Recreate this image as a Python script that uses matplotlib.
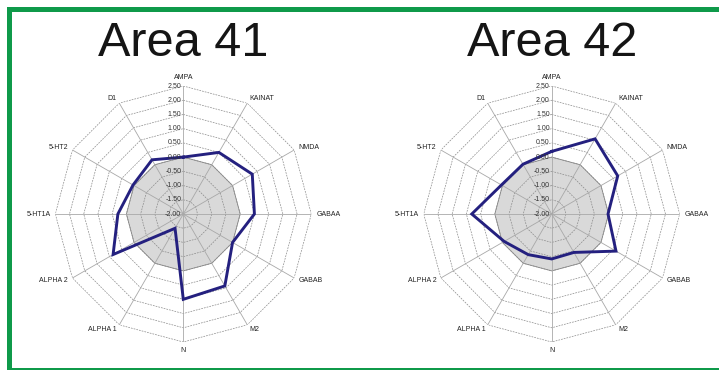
import numpy as np
import matplotlib
matplotlib.use("Agg")
import matplotlib.pyplot as plt
from matplotlib.patches import Rectangle

plt.rcParams['font.family'] = ['Liberation Sans', 'DejaVu Sans']

receptors = ["AMPA", "KAINAT", "NMDA", "GABAA", "GABAB", "M2", "N",
             "ALPHA 1", "ALPHA 2", "5-HT1A", "5-HT2", "D1"]
area41 = [0.00, 0.50, 0.80, 0.50, 0.00, 0.92, 1.00, -1.42, 0.85, 0.30, 0.04, 0.20]
area42 = [0.20, 1.05, 0.68, -0.02, 0.61, -0.44, -0.42, -0.35, -0.07, 0.81, 0.04, 0.02]
reference = [0.00, 0.00, 0.00, 0.00, 0.00, 0.00, 0.00, 0.00, 0.00, 0.00, 0.00, 0.00]
levels = [-2.00, -1.50, -1.00, -0.50, 0.00, 0.50, 1.00, 1.50, 2.00, 2.50]
titles = ["Area 41", "Area 42"]

W, H = 719, 370
fig = plt.figure(figsize=(W / 100, H / 100), dpi=100)
fig.patch.set_facecolor("white")

green = "#0f9a4a"
# frame bars (left, top, bottom)
fig.patches.append(Rectangle((7 / W, 0), 5 / W, 1 - 7 / H, transform=fig.transFigure,
                             facecolor=green, edgecolor="none"))
fig.patches.append(Rectangle((7 / W, 1 - 12 / H), 1 - 7 / W, 5 / H, transform=fig.transFigure,
                             facecolor=green, edgecolor="none"))
fig.patches.append(Rectangle((7 / W, 0), 1 - 7 / W, 2.5 / H, transform=fig.transFigure,
                             facecolor=green, edgecolor="none"))

n = len(receptors)
theta = np.arange(n) * 2 * np.pi / n
theta_c = np.append(theta, theta[0])

rmin, rmax = levels[0], levels[-1]
radius_px = 128
centers = [(183.3, 214.0), (551.7, 214.0)]


def closed(v):
    return np.append(v, v[0])


for (cx, cy), title, values in zip(centers, titles, [area41, area42]):
    w = 2 * radius_px / W
    h = 2 * radius_px / H
    ax = fig.add_axes([cx / W - w / 2, 1 - cy / H - h / 2, w, h], projection="polar")
    ax.set_theta_zero_location("N")
    ax.set_theta_direction(-1)
    ax.set_ylim(rmin, rmax)
    ax.grid(False)
    ax.set_xticks([])
    ax.set_yticks([])
    ax.spines["polar"].set_visible(False)
    ax.patch.set_alpha(0)

    # reference polygon
    ax.fill(theta_c, closed(reference), facecolor="#d9d9d9", edgecolor="#8c8c8c",
            linewidth=0.6, zorder=1)

    # polygonal rings
    for lv in levels[1:]:
        ax.plot(theta_c, [lv] * (n + 1), color="#8a8a8a", linewidth=0.5,
                linestyle=(0, (2.5, 1.5)), zorder=2)
    # spokes
    for t in theta:
        ax.plot([t, t], [rmin, rmax], color="#a8a8a8", linewidth=0.6, zorder=2)

    # series
    ax.plot(theta_c, closed(values), color="#24207f", linewidth=2.1, zorder=4,
            solid_joinstyle="miter")

    # value labels on the first axis
    for lv in levels:
        ax.annotate(f"{lv:.2f}", xy=(0, lv), xytext=(-1.5, 0), textcoords="offset points",
                    ha="right", va="center", fontsize=5, color="#333333", zorder=5)

    # category labels
    for t, name in zip(theta, receptors):
        s, c = np.sin(t), np.cos(t)
        ha = "left" if s > 0.1 else ("right" if s < -0.1 else "center")
        va = "bottom" if c > 0.9 else ("top" if c < -0.9 else "center")
        ax.annotate(name, xy=(t, rmax), xytext=(3.5 * s, 3.5 * c), textcoords="offset points",
                    ha=ha, va=va, fontsize=5, color="#222222", annotation_clip=False)

    fig.text(cx / W, 1 - 44 / H, title, ha="center", va="center", fontsize=35,
             color="#151515")

fig.savefig("out.png", dpi=100, facecolor="white")
